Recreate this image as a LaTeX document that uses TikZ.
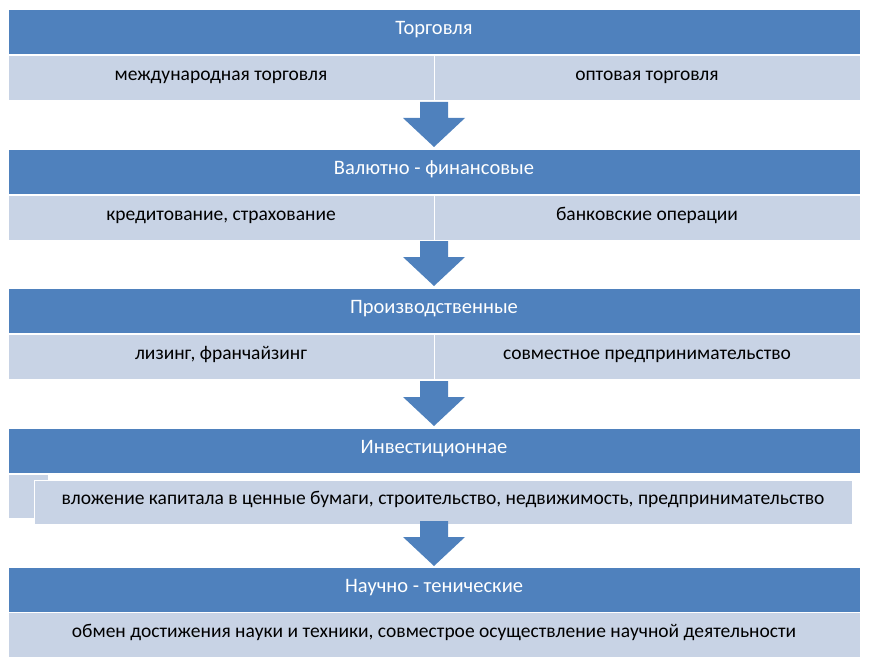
\documentclass[tikz,border=0pt]{standalone}
\usepackage{fontspec}
\setmainfont{Carlito}
\usetikzlibrary{positioning}
\definecolor{hdblue}{RGB}{79,129,189}
\definecolor{subblue}{RGB}{200,211,229}
\tikzset{
  box/.style={draw=white,line width=0.8pt,minimum height=45pt,inner sep=0pt,text height=1.5ex,text depth=.3ex,font=\fontsize{19.5}{22}\selectfont},
  head/.style={box,fill=hdblue,minimum width=852pt,text=white,font=\fontsize{20.5}{23}\selectfont},
  half/.style={box,fill=subblue,minimum width=426pt},
  full/.style={box,fill=subblue,minimum width=852pt}
}
\newcommand{\blockarrow}[1]{%
  \fill[hdblue] (420,#1) -- (448,#1) -- (448,#1+16) -- (465,#1+16) -- (434,#1+45) -- (403,#1+16) -- (420,#1+16) -- cycle;}
\begin{document}
\begin{tikzpicture}[x=1pt,y=-1pt]
\useasboundingbox (0,0) rectangle (870,663);
% Торговля
\node[head] (trade) at (434,32) {Торговля};
\node[half] (trade1) at (221,77.5) {международная торговля};
\node[half] (trade2) at (647,77.5) {оптовая торговля};
\blockarrow{102}
% Валютно-финансовые
\node[head] (fin) at (434,172) {Валютно - финансовые};
\node[half] (fin1) at (221,217.5) {кредитование, страхование};
\node[half] (fin2) at (647,217.5) {банковские операции};
\blockarrow{241}
% Производственные
\node[head] (prod) at (434,311) {Производственные};
\node[half] (prod1) at (221,356.5) {лизинг, франчайзинг};
\node[half] (prod2) at (647,356.5) {совместное предпринимательство};
\blockarrow{381}
% Инвестиционнае
\node[head] (inv) at (434,451) {Инвестиционнае};
\node[box,fill=subblue,minimum width=40pt,minimum height=44pt] (inv0) at (28,496) {};
\node[box,fill=subblue,minimum width=818pt,minimum height=44pt] (inv1) at (443,502) {вложение капитала в ценные бумаги, строительство, недвижимость, предпринимательство};
\blockarrow{521}
% Научно-технические
\node[head] (sci) at (434,590) {Научно - тенические};
\node[full] (sci1) at (434,634.5) {обмен достижения науки и техники, совместрое осуществление научной деятельности};
\end{tikzpicture}
\end{document}
